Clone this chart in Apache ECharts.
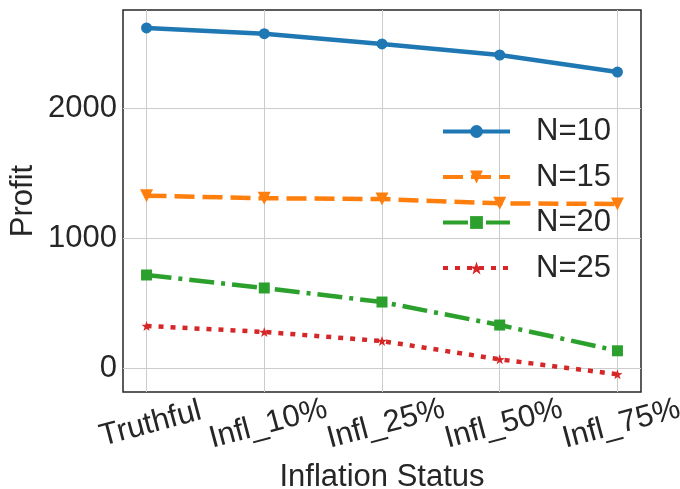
<!DOCTYPE html>
<html>
<head>
<meta charset="utf-8">
<script src="https://cdn.jsdelivr.net/npm/echarts@6/dist/echarts.min.js"></script>
<style>
  html, body { margin: 0; padding: 0; background: #fff; }
  #chart { width: 680px; height: 489px; }
</style>
</head>
<body>
<div id="chart"></div>
<script>
var categories = ["Truthful", "Infl_10%", "Infl_25%", "Infl_50%", "Infl_75%"];
var n10 = [2618, 2574, 2495, 2410, 2279];
var n15 = [1328, 1308, 1302, 1269, 1264];
var n20 = [718, 618, 510, 333, 135];
var n25 = [326, 280, 210, 69, -46];
var yTicks = [0, 1000, 2000];

var FONT = "Liberation Sans";
var TXT = "#262626";

function pts(arr) {
  return arr.map(function (v, i) { return [i, v]; });
}
var xIdx = categories.map(function (c, i) { return i; });
// labels split over two axes so the library does not drop overlapping neighbours
var xEven = xIdx.filter(function (i) { return i % 2 === 0; });
var xOdd = xIdx.filter(function (i) { return i % 2 === 1; });

function labelAxis(values) {
  return {
    type: "value",
    position: "bottom",
    min: -0.2, max: 4.2,
    axisLine: { show: false },
    axisTick: { show: false, customValues: values },
    splitLine: { show: false },
    axisLabel: {
      customValues: values,
      rotate: 15,
      align: "center",
      verticalAlign: "top",
      margin: 17,
      showMinLabel: true,
      showMaxLabel: true,
      hideOverlap: false,
      fontFamily: FONT, fontSize: 31, color: TXT,
      formatter: function (v) { return categories[Math.round(v)]; }
    }
  };
}

var myChart = echarts.init(document.getElementById("chart"));

myChart.setOption({
  animation: false,
  backgroundColor: "#fff",
  textStyle: { fontFamily: FONT, color: TXT },
  grid: {
    left: 123, right: 39, top: 10, bottom: 97,
    outerBoundsMode: "none",
    containLabel: false,
    show: true, borderColor: TXT, borderWidth: 1.5, backgroundColor: "#fff"
  },
  legend: {
    left: 441, top: 116,
    padding: 0,
    orient: "vertical",
    itemWidth: 67, itemHeight: 16, itemGap: 14.5,
    lineStyle: { width: 4 },
    textStyle: { fontFamily: FONT, fontSize: 31, color: TXT, padding: [0, 0, 0, 21] },
    data: ["N=10", "N=15", "N=20", "N=25"]
  },
  xAxis: [
    {
      type: "value",
      min: -0.2, max: 4.2,
      name: "Inflation Status",
      nameLocation: "middle",
      nameGap: 70,
      nameTextStyle: { fontFamily: FONT, fontSize: 31, color: TXT },
      axisLine: { show: false },
      axisTick: { show: false, customValues: xIdx },
      splitLine: { show: true, lineStyle: { color: "#cccccc", width: 1 } },
      axisLabel: { show: false }
    },
    labelAxis(xEven),
    labelAxis(xOdd)
  ],
  yAxis: {
    type: "value",
    min: -182, max: 2756,
    name: "Profit",
    nameLocation: "middle",
    nameGap: 84,
    nameMoveOverlap: false,
    nameTextStyle: { fontFamily: FONT, fontSize: 31, color: TXT },
    axisLine: { show: false },
    axisTick: { show: false, customValues: yTicks },
    splitLine: { show: true, lineStyle: { color: "#cccccc", width: 1 } },
    axisLabel: {
      customValues: yTicks,
      margin: 6,
      fontFamily: FONT, fontSize: 31, color: TXT,
      formatter: function (v) { return String(v); }
    }
  },
  series: [
    {
      name: "N=10", type: "line", data: pts(n10),
      symbol: "circle", symbolSize: 11,
      itemStyle: { color: "#1f77b4" },
      lineStyle: { color: "#1f77b4", width: 4.5, type: "solid" }
    },
    {
      name: "N=15", type: "line", data: pts(n15),
      symbol: "triangle", symbolRotate: 180, symbolSize: 13,
      itemStyle: { color: "#ff7f0e" },
      lineStyle: { color: "#ff7f0e", width: 4.5, type: [20, 8] }
    },
    {
      name: "N=20", type: "line", data: pts(n20),
      symbol: "rect", symbolSize: 11,
      itemStyle: { color: "#2ca02c" },
      lineStyle: { color: "#2ca02c", width: 4.5, type: [25, 7, 4, 7] }
    },
    {
      name: "N=25", type: "line", data: pts(n25),
      symbol: "path://M0,-10 L2.35,-3.24 L9.51,-3.09 L3.8,1.24 L5.88,8.09 L0,4 L-5.88,8.09 L-3.8,1.24 L-9.51,-3.09 L-2.35,-3.24 Z",
      symbolSize: 10,
      itemStyle: { color: "#d62728" },
      lineStyle: { color: "#d62728", width: 4.5, type: [5, 7] }
    }
  ]
});
</script>
</body>
</html>
